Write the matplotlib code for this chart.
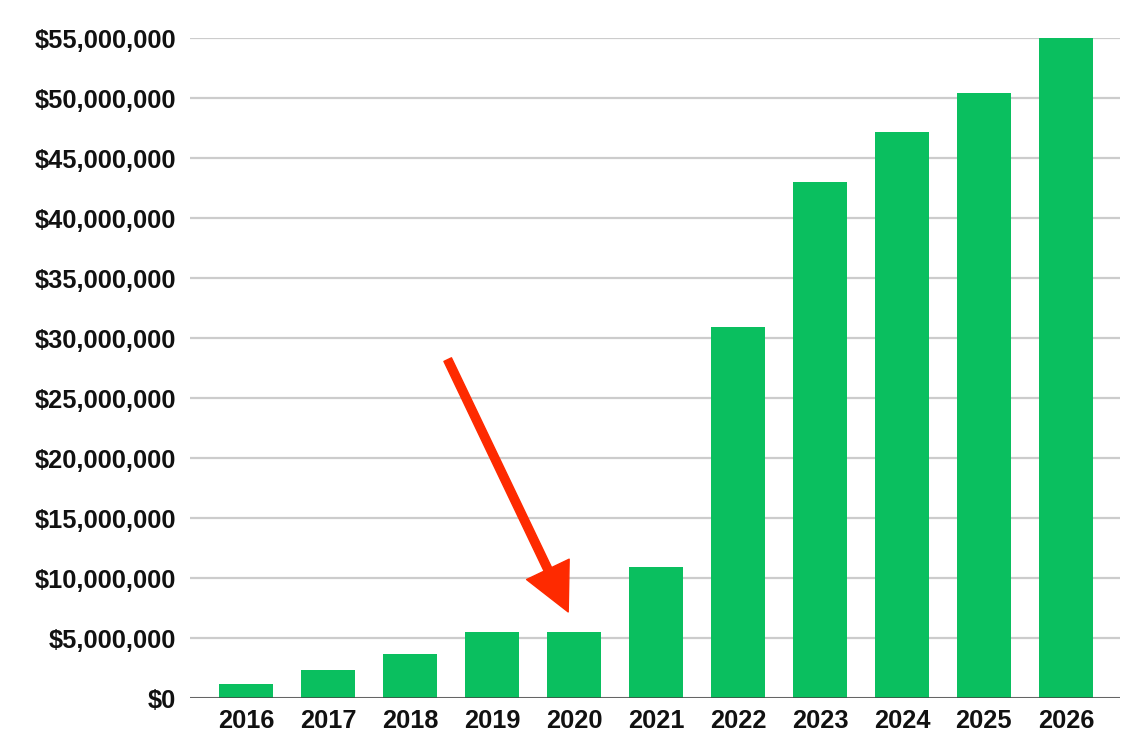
import matplotlib
matplotlib.use("Agg")
import matplotlib.pyplot as plt
from matplotlib.ticker import FuncFormatter

years = ["2016", "2017", "2018", "2019", "2020", "2021", "2022", "2023", "2024", "2025", "2026"]
revenue = [1.2e6, 2.3e6, 3.7e6, 5.5e6, 5.5e6, 10.9e6, 30.9e6, 43.0e6, 47.2e6, 50.4e6, 55.0e6]
y_ticks = [0, 5e6, 10e6, 15e6, 20e6, 25e6, 30e6, 35e6, 40e6, 45e6, 50e6, 55e6]

plt.rcParams['font.family'] = ['Liberation Sans', 'DejaVu Sans']

fig = plt.figure(figsize=(11.48, 7.56), dpi=100)
ax = fig.add_axes([190/1148, 1-698/756, (1120-190)/1148, (698-38)/756])

x = list(range(len(years)))
ax.bar(x, revenue, width=0.65, color="#0abf5f", zorder=3)

ax.set_xlim(-0.683, 10.66)
ax.set_ylim(0, 55e6)
ax.set_yticks(y_ticks)
ax.yaxis.set_major_formatter(FuncFormatter(lambda v, p: "${:,.0f}".format(v)))
ax.set_xticks(x)
ax.set_xticklabels(years)

ax.grid(axis='y', color="#cccccc", linewidth=1.6, zorder=0)
ax.set_axisbelow(True)
for s in ax.spines.values():
    s.set_visible(False)
ax.axhline(0, color="#444444", linewidth=1.8, zorder=4)

ax.tick_params(axis='both', length=0)
ax.tick_params(axis='y', pad=10, labelsize=18.3)
ax.tick_params(axis='x', pad=8, labelsize=18.3)
for lab in ax.get_xticklabels() + ax.get_yticklabels():
    lab.set_fontweight('bold')
    lab.set_color('#111111')

# annotation arrow pointing at 2020
ax.annotate("", xy=(3.93, 7.17e6), xytext=(2.46, 28.2e6),
            arrowprops=dict(arrowstyle="simple,head_length=34,head_width=34,tail_width=6",
                            mutation_scale=1, color="#fe2a00", shrinkA=0, shrinkB=0),
            zorder=6)

fig.savefig("out.png", dpi=100)
